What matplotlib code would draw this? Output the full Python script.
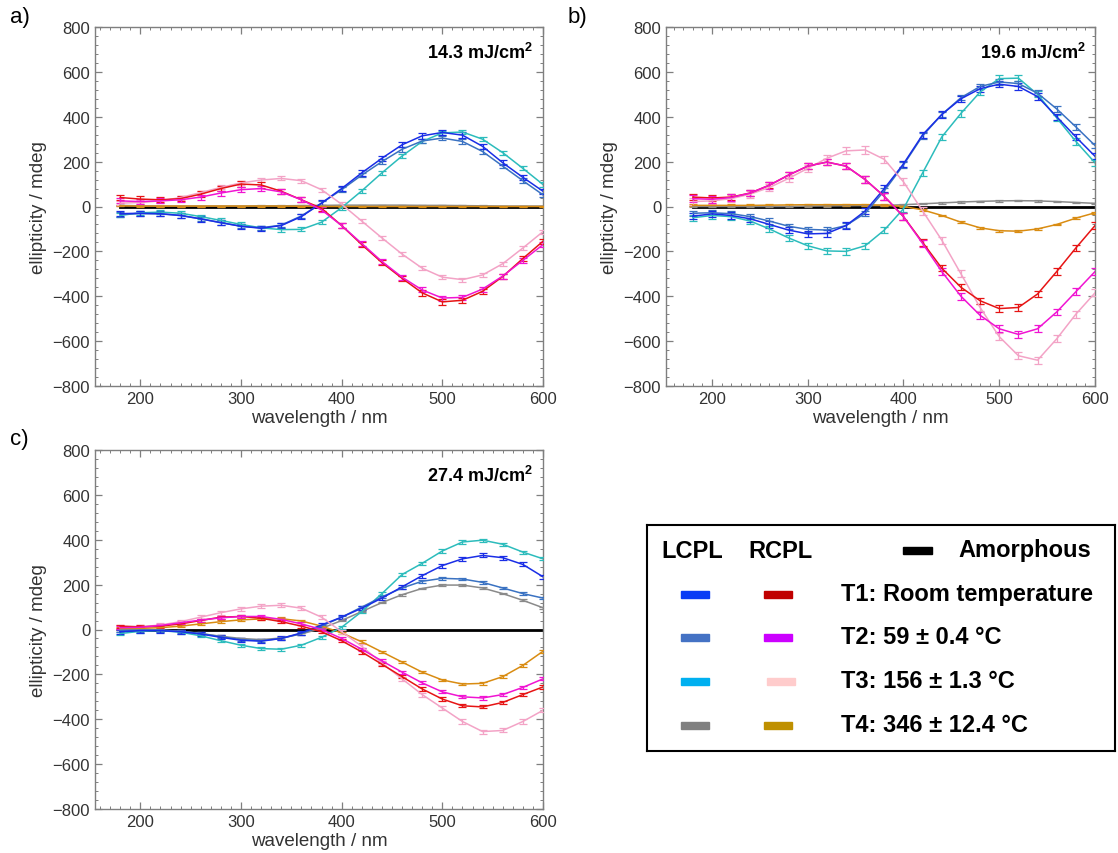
import numpy as np
import matplotlib
matplotlib.use("Agg")
import matplotlib.pyplot as plt
from matplotlib.patches import Rectangle
from matplotlib.ticker import MultipleLocator

plt.rcParams['font.family'] = ['Liberation Sans', 'DejaVu Sans']
plt.rcParams['mathtext.fontset'] = 'custom'
plt.rcParams['mathtext.rm'] = 'Liberation Sans'
plt.rcParams['mathtext.bf'] = 'Liberation Sans:bold'

# ---------------------------------------------------------------- data
wavelength = np.arange(180, 601, 20)   # nm

# (a) 14.3 mJ/cm2
a_L1 = [-32, -30, -32, -40, -55, -72, -88, -97, -85, -45, 15, 80, 150, 215, 275, 315, 330, 318, 268, 195, 130, 68]
a_L2 = [-35, -32, -33, -40, -55, -72, -88, -95, -83, -42, 15, 75, 140, 200, 255, 292, 305, 290, 245, 180, 115, 52]
a_L3 = [-40, -28, -25, -30, -45, -62, -80, -95, -103, -102, -70, -5, 70, 150, 225, 290, 328, 332, 300, 240, 170, 98]
a_L4 = [5, 3, 2, 2, 2, 2, 2, 3, 3, 4, 5, 6, 6, 6, 6, 5, 5, 4, 3, 2, 2, 2]
a_R1 = [40, 33, 30, 35, 55, 80, 100, 96, 68, 30, -8, -85, -170, -250, -320, -385, -425, -418, -378, -312, -232, -155]
a_R2 = [25, 22, 25, 30, 42, 60, 75, 80, 65, 30, -15, -85, -165, -245, -315, -372, -408, -405, -368, -310, -240, -170]
a_R3 = [15, 18, 25, 40, 62, 85, 105, 118, 125, 115, 75, 10, -65, -140, -212, -275, -315, -326, -305, -255, -185, -112]
a_R4 = [3, 2, 2, 2, 2, 2, 2, 2, 2, 1, 0, 0, 0, 0, 0, 0, 0, 0, 0, 0, 0, 0]
a_amorphous = [0] * 22

# (b) 19.6 mJ/cm2
b_L1 = [-43, -33, -40, -55, -80, -105, -122, -120, -85, -20, 80, 190, 320, 410, 480, 525, 545, 535, 490, 400, 310, 224]
b_L2 = [-30, -28, -32, -45, -65, -88, -102, -105, -85, -30, 70, 185, 315, 410, 485, 535, 555, 548, 505, 435, 355, 272]
b_L3 = [-50, -40, -45, -65, -100, -140, -175, -198, -200, -175, -105, -10, 150, 310, 415, 510, 570, 572, 500, 395, 290, 195]
b_L4 = [0, 0, 0, 0, 0, 0, 2, 3, 4, 5, 5, 8, 12, 16, 20, 23, 25, 26, 25, 22, 18, 14]
b_R1 = [42, 38, 42, 60, 95, 140, 180, 198, 180, 120, 45, -45, -160, -275, -360, -420, -455, -450, -390, -290, -185, -85]
b_R2 = [35, 32, 40, 60, 95, 140, 180, 198, 180, 120, 45, -45, -165, -290, -400, -485, -545, -570, -545, -470, -380, -290]
b_R3 = [22, 25, 35, 55, 85, 125, 170, 215, 248, 252, 210, 110, -20, -150, -300, -450, -580, -665, -685, -590, -480, -385]
b_R4 = [5, 5, 5, 5, 6, 7, 8, 8, 8, 8, 6, 0, -15, -40, -70, -95, -108, -110, -100, -80, -52, -28]
b_amorphous = [0] * 22

# (c) 27.4 mJ/cm2
c_L1 = [-10, -5, -5, -10, -20, -35, -48, -52, -40, -15, 20, 55, 95, 140, 190, 240, 285, 315, 330, 320, 290, 235]
c_L2 = [-5, -3, -3, -8, -18, -32, -45, -50, -40, -18, 15, 55, 100, 145, 185, 215, 228, 225, 210, 185, 160, 140]
c_L3 = [-18, -8, -5, -12, -28, -50, -70, -85, -88, -70, -35, 10, 80, 160, 245, 295, 350, 390, 398, 380, 345, 315]
c_L4 = [0, 0, -2, -8, -18, -30, -40, -45, -38, -20, 5, 40, 80, 120, 155, 183, 198, 198, 185, 160, 130, 97]
c_R1 = [15, 12, 15, 25, 40, 55, 58, 50, 35, 15, -10, -50, -100, -155, -210, -265, -310, -340, -345, -325, -290, -256]
c_R2 = [8, 10, 18, 30, 42, 52, 58, 58, 45, 25, 0, -40, -88, -140, -190, -238, -278, -300, -305, -290, -258, -220]
c_R3 = [10, 12, 20, 35, 55, 75, 92, 104, 108, 95, 55, -10, -75, -150, -220, -290, -350, -410, -455, -450, -410, -360]
c_R4 = [5, 5, 8, 15, 25, 35, 43, 47, 48, 38, 15, -15, -55, -100, -145, -190, -225, -243, -240, -210, -160, -97]
c_amorphous = [0] * 22

# standard deviation of each spectrum (mdeg)
a_err = {"L1": 12, "L2": 10, "L3": 9, "L4": 2, "R1": 12, "R2": 11, "R3": 9, "R4": 2}
b_err = {"L1": 14, "L2": 12, "L3": 14, "L4": 3, "R1": 14, "R2": 15, "R3": 16, "R4": 4}
c_err = {"L1": 9, "L2": 6, "L3": 7, "L4": 4, "R1": 7, "R2": 7, "R3": 9, "R4": 6}

fluence_labels = ["14.3 mJ/cm$^\\mathbf{2}$", "19.6 mJ/cm$^\\mathbf{2}$", "27.4 mJ/cm$^\\mathbf{2}$"]
panel_tags = ["a)", "b)", "c)"]

legend_rows = ["T1: Room temperature", "T2: 59 \u00b1 0.4 \u00b0C",
               "T3: 156 \u00b1 1.3 \u00b0C", "T4: 346 \u00b1 12.4 \u00b0C"]

# ---------------------------------------------------------------- styles
line_colors = {"L1": "#1a2ee6", "L2": "#3a72c2", "L3": "#2cbcbc", "L4": "#8a8a8a",
               "R1": "#e61414", "R2": "#f014d2", "R3": "#f3a3c6", "R4": "#d98c12"}
key_colors_L = ["#0a3cf5", "#4472c4", "#00b0f0", "#808080"]
key_colors_R = ["#c00000", "#cc00ff", "#ffcccc", "#bf9000"]
draw_order = ["L4", "R4", "L3", "L2", "L1", "R3", "R1", "R2"]

panels = [
    dict(series={"L1": a_L1, "L2": a_L2, "L3": a_L3, "L4": a_L4,
                 "R1": a_R1, "R2": a_R2, "R3": a_R3, "R4": a_R4},
         amorphous=a_amorphous, err=a_err,
         rect=[95 / 1118, 1 - 387 / 854, 448 / 1118, 359 / 854], xlim=(155, 600)),
    dict(series={"L1": b_L1, "L2": b_L2, "L3": b_L3, "L4": b_L4,
                 "R1": b_R1, "R2": b_R2, "R3": b_R3, "R4": b_R4},
         amorphous=b_amorphous, err=b_err,
         rect=[666 / 1118, 1 - 387 / 854, 429 / 1118, 359 / 854], xlim=(152, 600)),
    dict(series={"L1": c_L1, "L2": c_L2, "L3": c_L3, "L4": c_L4,
                 "R1": c_R1, "R2": c_R2, "R3": c_R3, "R4": c_R4},
         amorphous=c_amorphous, err=c_err,
         rect=[95 / 1118, 1 - 810 / 854, 448 / 1118, 359 / 854], xlim=(155, 600)),
]

fig = plt.figure(figsize=(11.18, 8.54), dpi=100)

spine_grey = "#7f7f7f"
text_grey = "#333333"

for i, p in enumerate(panels):
    ax = fig.add_axes(p["rect"])
    ax.plot(wavelength, p["amorphous"], color="black", lw=2.0, zorder=2)
    for key in draw_order:
        ax.errorbar(wavelength, p["series"][key], yerr=p["err"][key],
                    color=line_colors[key], lw=1.1, elinewidth=0.9,
                    capsize=2.6, capthick=0.9, zorder=3)
    ax.set_xlim(*p["xlim"])
    ax.set_ylim(-800, 800)
    ax.xaxis.set_major_locator(MultipleLocator(100))
    ax.xaxis.set_minor_locator(MultipleLocator(10))
    ax.yaxis.set_major_locator(MultipleLocator(200))
    ax.yaxis.set_minor_locator(MultipleLocator(40))
    ax.tick_params(which="both", direction="in", top=True, right=True,
                   color=spine_grey, labelcolor=text_grey, labelsize=12)
    ax.tick_params(which="major", length=5, width=0.9)
    ax.tick_params(which="minor", length=2.5, width=0.7)
    for s in ax.spines.values():
        s.set_color(spine_grey)
        s.set_linewidth(1.0)
    ax.set_xlabel("wavelength / nm", fontsize=13.5, color=text_grey, labelpad=2)
    ax.set_ylabel("ellipticity / mdeg", fontsize=13.5, color=text_grey, labelpad=4)
    ax.text(0.978, 0.915, fluence_labels[i], transform=ax.transAxes,
            ha="right", va="baseline", fontsize=13, fontweight="bold")

fig.text(10 / 1118, 1 - 18 / 854, panel_tags[0], fontsize=16, va="center", ha="left")
fig.text(568 / 1118, 1 - 18 / 854, panel_tags[1], fontsize=16, va="center", ha="left")
fig.text(10 / 1118, 1 - 440 / 854, panel_tags[2], fontsize=16, va="center", ha="left")

# ---------------------------------------------------------------- key box
kx0, kx1, ky0, ky1 = 647, 1115, 526, 752
kax = fig.add_axes([kx0 / 1118, 1 - ky1 / 854, (kx1 - kx0) / 1118, (ky1 - ky0) / 854])
kax.set_xlim(kx0, kx1)
kax.set_ylim(ky1, ky0)
kax.set_xticks([])
kax.set_yticks([])
for s in kax.spines.values():
    s.set_color("black")
    s.set_linewidth(1.5)

kfs = 17
kax.text(692, 552, "LCPL", ha="center", va="center", fontsize=kfs, fontweight="bold")
kax.text(781, 552, "RCPL", ha="center", va="center", fontsize=kfs, fontweight="bold")
kax.add_patch(Rectangle((903, 548), 29, 7, color="black"))
kax.text(958, 551, "Amorphous", ha="left", va="center", fontsize=kfs, fontweight="bold")

row_y = [595, 638, 682, 726]
for j, label in enumerate(legend_rows):
    y = row_y[j]
    kax.add_patch(Rectangle((681, y - 3.5), 28, 7, color=key_colors_L[j]))
    rx = 767 if j == 2 else 764
    kax.add_patch(Rectangle((rx, y - 3.5), 28, 7, color=key_colors_R[j]))
    kax.text(841, y, label, ha="left", va="center", fontsize=kfs, fontweight="bold")

fig.savefig("out.png", dpi=100)
